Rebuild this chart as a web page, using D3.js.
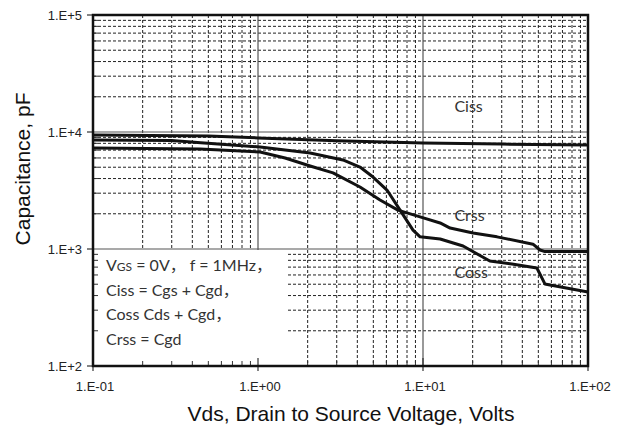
<!DOCTYPE html>
<html><head><meta charset="utf-8">
<script src="https://cdn.jsdelivr.net/npm/d3@7"></script>
<style>body{margin:0;background:#fff}svg{display:block}</style>
</head><body>
<svg id="c" width="624" height="429"></svg>
<script>
const xTickValues = [0.1, 1, 10, 100];
const xTickLabels = ["1.E-01", "1.E+00", "1.E+01", "1.E+02"];
const yTickValues = [100, 1000, 10000, 100000];
const yTickLabels = ["1.E+2", "1.E+3", "1.E+4", "1.E+5"];

const cissVds = [0.1, 0.5, 1, 3, 10, 30, 100];
const cissVal = [9420, 9250, 8900, 8400, 8050, 7880, 7740];

const cossVds = [0.1, 0.3, 0.45, 1.03, 2.07, 3.27, 4.15, 4.98, 6.05, 7.26, 8.7, 9.6, 12.7, 17.5, 25.4, 34.6, 49, 54.8, 58.9, 100];
const cossVal = [8550, 8450, 8100, 7450, 6620, 5770, 5020, 4120, 3190, 2150, 1450, 1270, 1217, 1060, 789, 745, 688, 503, 492, 429];

const crssVds = [0.1, 0.445, 1.03, 1.46, 2.07, 2.85, 4.15, 5.49, 7.05, 9.6, 12.7, 14.6, 20.1, 28.1, 46.4, 51.2, 54.8, 100];
const crssVal = [7300, 7170, 6740, 6000, 5120, 4470, 3390, 2620, 2150, 1880, 1670, 1510, 1370, 1270, 1100, 980, 950, 950];

const curveLabels = [
  {text: "Ciss", vds: 15.5, val: 14800},
  {text: "Crss", vds: 15.5, val: 1720},
  {text: "Coss", vds: 15.5, val: 560}
];
const noteLines = ["= 0V， f = 1MHz，", "Ciss = Cgs + Cgd，", "Coss Cds + Cgd，", "Crss = Cgd"];

const svg = d3.select("#c");
const L = 93, R = 588, T = 15, B = 366;
const x = d3.scaleLog().domain([0.1, 100]).range([L, R]);
const y = d3.scaleLog().domain([100, 100000]).range([B, T]);

const minorX = [], minorY = [];
[0.1, 1, 10].forEach(d => { for (let k = 2; k <= 9; k++) minorX.push(d * k); });
[100, 1000, 10000].forEach(d => { for (let k = 2; k <= 9; k++) minorY.push(d * k); });

const g = svg.append("g");
// minor dashed grid
g.selectAll(".mx").data(minorX).join("line")
  .attr("x1", d => x(d)).attr("x2", d => x(d)).attr("y1", T).attr("y2", B)
  .attr("stroke", "#222").attr("stroke-width", 1).attr("stroke-dasharray", "3,2");
g.selectAll(".my").data(minorY).join("line")
  .attr("x1", L).attr("x2", R).attr("y1", d => y(d)).attr("y2", d => y(d))
  .attr("stroke", "#222").attr("stroke-width", 1).attr("stroke-dasharray", "3,2");
// major grid
g.selectAll(".MX").data([1, 10]).join("line")
  .attr("x1", d => x(d)).attr("x2", d => x(d)).attr("y1", T).attr("y2", B)
  .attr("stroke", "#555").attr("stroke-width", 1.2);
g.selectAll(".MY").data([1000, 10000]).join("line")
  .attr("x1", L).attr("x2", R).attr("y1", d => y(d)).attr("y2", d => y(d))
  .attr("stroke", "#555").attr("stroke-width", 1.2);

// note box
g.append("rect").attr("x", L).attr("y", y(1000) + 1).attr("width", 195).attr("height", B - y(1000) - 1).attr("fill", "#fff");

// minor ticks inside
g.selectAll(".tx").data(minorX).join("line")
  .attr("x1", d => x(d)).attr("x2", d => x(d)).attr("y1", B).attr("y2", B - 5)
  .attr("stroke", "#333").attr("stroke-width", 1);
g.selectAll(".ty").data(minorY).join("line")
  .attr("x1", L).attr("x2", L + 5).attr("y1", d => y(d)).attr("y2", d => y(d))
  .attr("stroke", "#333").attr("stroke-width", 1);
// major ticks
g.selectAll(".TX").data(xTickValues).join("line")
  .attr("x1", d => x(d)).attr("x2", d => x(d)).attr("y1", B - 8).attr("y2", B + 5)
  .attr("stroke", "#333").attr("stroke-width", 1.2);
g.selectAll(".TY").data(yTickValues).join("line")
  .attr("x1", L - 6).attr("x2", L).attr("y1", d => y(d)).attr("y2", d => y(d))
  .attr("stroke", "#333").attr("stroke-width", 1.2);

// curves
const line = d3.line().x(d => x(d[0])).y(d => y(d[1]));
[[cissVds, cissVal], [cossVds, cossVal], [crssVds, crssVal]].forEach(([xs, vs]) => {
  g.append("path").datum(xs.map((v, i) => [v, vs[i]]))
    .attr("d", line).attr("fill", "none").attr("stroke", "#111")
    .attr("stroke-width", 3).attr("stroke-linejoin", "round");
});

// frame
g.append("rect").attr("x", L).attr("y", T).attr("width", R - L).attr("height", B - T)
  .attr("fill", "none").attr("stroke", "#111").attr("stroke-width", 2.5);

// tick labels
g.selectAll(".xl").data(xTickValues).join("text")
  .attr("x", d => x(d) + 2).attr("y", 391).attr("text-anchor", "middle")
  .attr("font-family", "Arial, 'Liberation Sans', sans-serif").attr("font-size", 13).attr("fill", "#222")
  .text((d, i) => xTickLabels[i]);
g.selectAll(".yl").data(yTickValues).join("text")
  .attr("x", 82).attr("y", d => y(d) + 5).attr("text-anchor", "end")
  .attr("font-family", "Arial, 'Liberation Sans', sans-serif").attr("font-size", 13).attr("fill", "#222")
  .text((d, i) => yTickLabels[i]);

// axis titles
g.append("text").attr("x", 351).attr("y", 421).attr("text-anchor", "middle")
  .attr("font-family", "Arial, 'Liberation Sans', sans-serif").attr("font-size", 21).attr("fill", "#111")
  .text("Vds, Drain to Source Voltage, Volts");
g.append("text").attr("transform", "translate(30,169) rotate(-90)").attr("text-anchor", "middle")
  .attr("font-family", "Arial, 'Liberation Sans', sans-serif").attr("font-size", 21).attr("fill", "#111")
  .text("Capacitance, pF");

// curve labels
g.selectAll(".cl").data(curveLabels).join("text")
  .attr("x", d => x(d.vds)).attr("y", d => y(d.val))
  .attr("font-family", "Lato, 'Open Sans', sans-serif").attr("font-size", 16).attr("fill", "#333")
  .text(d => d.text);

// note text
const nf = "Lato, 'Open Sans', 'Noto Sans CJK SC', sans-serif";
const t1 = g.append("text").attr("x", 106).attr("y", 271).attr("font-family", nf).attr("font-size", 16).attr("fill", "#333");
t1.append("tspan").text("V");
t1.append("tspan").attr("font-size", 12).text("GS");
t1.append("tspan").text(" " + noteLines[0]);
const ny = [296, 320, 345];
noteLines.slice(1).forEach((s, i) => {
  g.append("text").attr("x", 106).attr("y", ny[i]).attr("font-family", nf).attr("font-size", 16).attr("fill", "#333").text(s);
});
</script>
</body></html>
